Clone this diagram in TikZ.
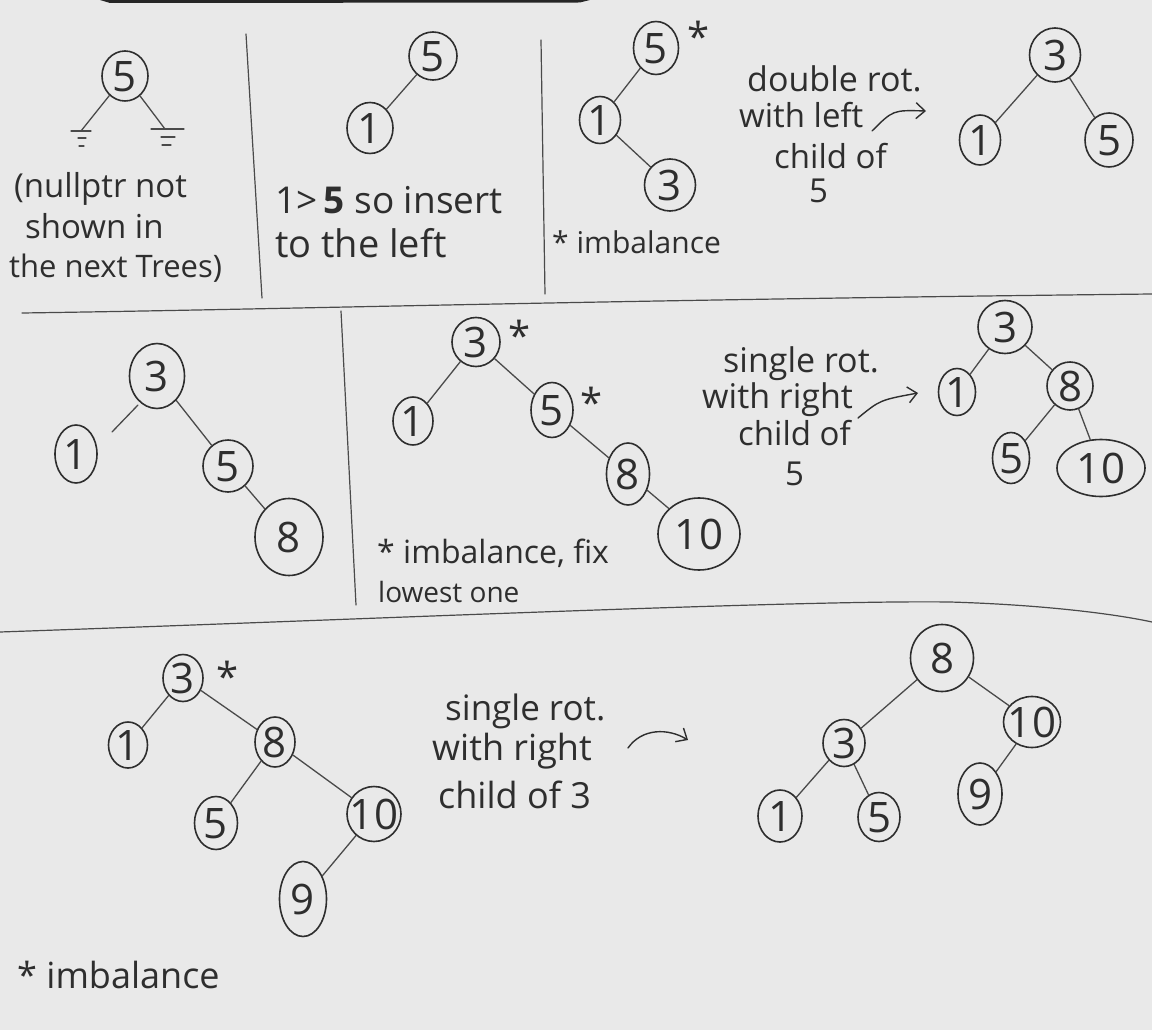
\documentclass[tikz,border=0pt]{standalone}
\usepackage{fontspec}
\setmainfont{Open Sans}
\usetikzlibrary{shapes.geometric,arrows.meta,calc}
\definecolor{paper}{HTML}{E9E9E9}
\definecolor{pencil}{HTML}{2E2E2E}
\definecolor{lead}{HTML}{4A4A4A}
\tikzset{
  key/.style={draw=pencil, ellipse, line width=1.6pt, inner sep=0pt, text=pencil,
    font=\fontsize{42}{42}\selectfont},
  link/.style={draw=lead, line width=1.3pt, line cap=round},
  rule/.style={draw=lead, line width=1.2pt, line cap=round},
  note/.style={text=pencil, anchor=base west, inner sep=0pt,
    font=\fontsize{33}{33}\selectfont},
  asterisk/.style={text=pencil, inner sep=0pt, font=\fontsize{40}{40}\selectfont},
  turn/.style={draw=pencil, line width=1.4pt, line cap=round,
    -{Straight Barb[length=9pt,width=16pt,line width=1.4pt]}}
}
% sized by its outline only: the label is a zero-size box centred on the node
\newcommand{\keylabel}[1]{\makebox[0pt]{\raisebox{-0.36em}[0pt][0pt]{#1}}}
% tree key: name, position, width, height, label
\newcommand{\treekey}[5]{\node[key, minimum width=#3pt, minimum height=#4pt] (#1) at #2 {\keylabel{#5}};}
\newcommand{\notesize}[1]{\fontsize{#1}{#1}\selectfont}
\begin{document}
\begin{tikzpicture}[x=1pt, y=-1pt]
\fill[paper] (0,0) rectangle (1152,1030);
\useasboundingbox (0,0) rectangle (1152,1030);
% dark top edge of the sheet
\fill[black!85] (100,0) -- (590,0) -- (580,2.5) -- (110,3) -- cycle;

% ---------- panel separators ----------
\draw[rule] (22,313) .. controls (300,309) and (600,300) .. (1152,294);
\draw[rule] (0,632) .. controls (400,618) and (800,600) .. (950,602)
            .. controls (1050,605) and (1120,615) .. (1152,622);
\draw[rule] (246,34) -- (262,298);
\draw[rule] (541,40) -- (545,294);
\draw[rule] (341,311) -- (356,605);

% ---------- row 1, panel 1: root with two null pointers ----------
\treekey{pa}{(125,76)}{46}{50}{5}
\coordinate (gl) at (81,131);
\coordinate (gr) at (165,129);
\draw[link] (pa) -- (gl);
\draw[link] (pa) -- (gr);
\draw[rule] ($(gl)+(-10,0)$) -- ($(gl)+(10,0)$);
\draw[rule] ($(gl)+(-3,7)$) -- ($(gl)+(5,7)$);
\draw[rule] ($(gl)+(-2,15)$) -- ($(gl)+(3,15)$);
\draw[rule] ($(gr)+(-14,0)$) -- ($(gr)+(19,0)$);
\draw[rule] ($(gr)+(-4,8)$) -- ($(gr)+(10,8)$);
\draw[rule] ($(gr)+(-3,16)$) -- ($(gr)+(6,16)$);
\node[note] (ta1) at (14,197) {(nullptr not};
\node[note] (ta2) at (25,238) {shown in};
\node[note, font=\notesize{31}] (ta3) at (9,277) {the next Trees)};

% ---------- row 1, panel 2: insert 1 ----------
\treekey{pb1}{(433,56)}{48}{48}{5}
\treekey{pb2}{(370,128)}{46}{51}{1}
\draw[link] (pb1) -- (pb2);
\node[note, font=\notesize{37}] (tb1) at (275,213) {1>\,\textbf{5} so insert};
\node[note, font=\notesize{38}] (tb2) at (275,257) {to the left};

% ---------- row 1, panel 3: insert 3 ----------
\treekey{pc1}{(656,48)}{45}{53}{5}
\node[asterisk] (pcs) at (699,36) {*};
\treekey{pc2}{(600,120)}{41}{47}{1}
\treekey{pc3}{(670,185)}{51}{52}{3}
\draw[link] (pc1) -- (pc2);
\draw[link] (pc2) -- (pc3);
\node[note, font=\notesize{30}] (tc1) at (552,253) {* imbalance};

\node[note, font=\notesize{34}] (td1) at (747,92) {double rot.};
\node[note, font=\notesize{33}] (td2) at (739,128) {with left};
\node[note, font=\notesize{33}] (td3) at (774,168) {child of};
\node[note, font=\notesize{33}] (td4) at (809,203) {5};
\coordinate (da) at (872,131);
\coordinate (db) at (926,111);
\draw[turn] (da) .. controls (893,110) .. (db);

\treekey{pd1}{(1055,55)}{51}{54}{3}
\treekey{pd2}{(980,140)}{41}{50}{1}
\treekey{pd3}{(1109,140)}{48}{54}{5}
\draw[link] (pd1) -- (pd2);
\draw[link] (pd1) -- (pd3);

% ---------- row 2, left: insert 8 ----------
\treekey{qa1}{(157,376)}{55}{65}{3}
\treekey{qa2}{(76,454)}{42}{58}{1}
\treekey{qa3}{(228,466)}{50}{52}{5}
\treekey{qa4}{(289,537)}{68}{77}{8}
\draw[link] ($(qa1)+(-19,29)$) -- ($(qa2)+(36,-22)$);
\draw[link] (qa1) -- (qa3);
\draw[link] (qa3) -- (qa4);

% ---------- row 2, middle: insert 10 ----------
\treekey{qb1}{(476,342)}{48}{49}{3}
\node[asterisk] (qbs1) at (520,335) {*};
\treekey{qb2}{(413,421)}{40}{48}{1}
\treekey{qb3}{(552,410)}{42}{55}{5}
\node[asterisk] (qbs2) at (592,402) {*};
\treekey{qb4}{(628,474)}{43}{62}{8}
\treekey{qb5}{(699,534)}{82}{72}{10}
\draw[link] (qb1) -- (qb2);
\draw[link] (qb1) -- (qb3);
\draw[link] (qb3) -- (qb4);
\draw[link] (qb4) -- (qb5);
\node[note, font=\notesize{32}] (te1) at (377,563) {* imbalance, fix};
\node[note, font=\notesize{28}] (te2) at (378,602) {lowest one};

\node[note, font=\notesize{34}] (tf1) at (723,372) {single rot.};
\node[note, font=\notesize{34}] (tf2) at (702,408) {with right};
\node[note, font=\notesize{33}] (tf3) at (738,445) {child of};
\node[note, font=\notesize{33}] (tf4) at (785,485) {5};
\coordinate (fa) at (858,418);
\coordinate (fb) at (918,393);
\draw[turn] (fa) .. controls (880,400) .. (fb);

\treekey{qc1}{(1005,327)}{54}{53}{3}
\treekey{qc2}{(957,392)}{37}{47}{1}
\treekey{qc3}{(1070,386)}{46}{48}{8}
\treekey{qc4}{(1011,458)}{37}{51}{5}
\treekey{qc5}{(1101,468)}{88}{57}{10}
\draw[link] (qc1) -- (qc2);
\draw[link] (qc1) -- (qc3);
\draw[link] (qc3) -- (qc4);
\draw[link] (qc3) -- (qc5);

% ---------- row 3, left: insert 9 ----------
\treekey{ra1}{(183,678)}{40}{47}{3}
\node[asterisk] (ras) at (228,676) {*};
\treekey{ra2}{(128,745)}{39}{46}{1}
\treekey{ra3}{(275,742)}{40}{50}{8}
\treekey{ra4}{(216,823)}{43}{53}{5}
\treekey{ra5}{(374,814)}{54}{55}{10}
\treekey{ra6}{(303,899)}{47}{75}{9}
\draw[link] (ra1) -- (ra2);
\draw[link] (ra1) -- (ra3);
\draw[link] (ra3) -- (ra4);
\draw[link] (ra3) -- (ra5);
\draw[link] (ra5) -- (ra6);
\node[note, font=\notesize{36}] (tg1) at (17,988) {* imbalance};

\node[note, font=\notesize{35}] (th1) at (445,720) {single rot.};
\node[note, font=\notesize{36}] (th2) at (432,760) {with right};
\node[note, font=\notesize{36}] (th3) at (438,808) {child of 3};
\coordinate (ha) at (628,748);
\coordinate (hb) at (688,740);
\draw[turn] (ha) .. controls (642,728) and (668,728) .. (hb);

% ---------- row 3, right: after the rotation ----------
\treekey{rb1}{(942,658)}{63}{67}{8}
\treekey{rb2}{(844,743)}{42}{47}{3}
\treekey{rb3}{(1032,722)}{57}{51}{10}
\treekey{rb4}{(780,816)}{44}{52}{1}
\treekey{rb5}{(879,817)}{42}{49}{5}
\treekey{rb6}{(980,794)}{44}{62}{9}
\draw[link] (rb1) -- (rb2);
\draw[link] (rb1) -- (rb3);
\draw[link] (rb2) -- (rb4);
\draw[link] (rb2) -- (rb5);
\draw[link] (rb3) -- (rb6);
\end{tikzpicture}
\end{document}
